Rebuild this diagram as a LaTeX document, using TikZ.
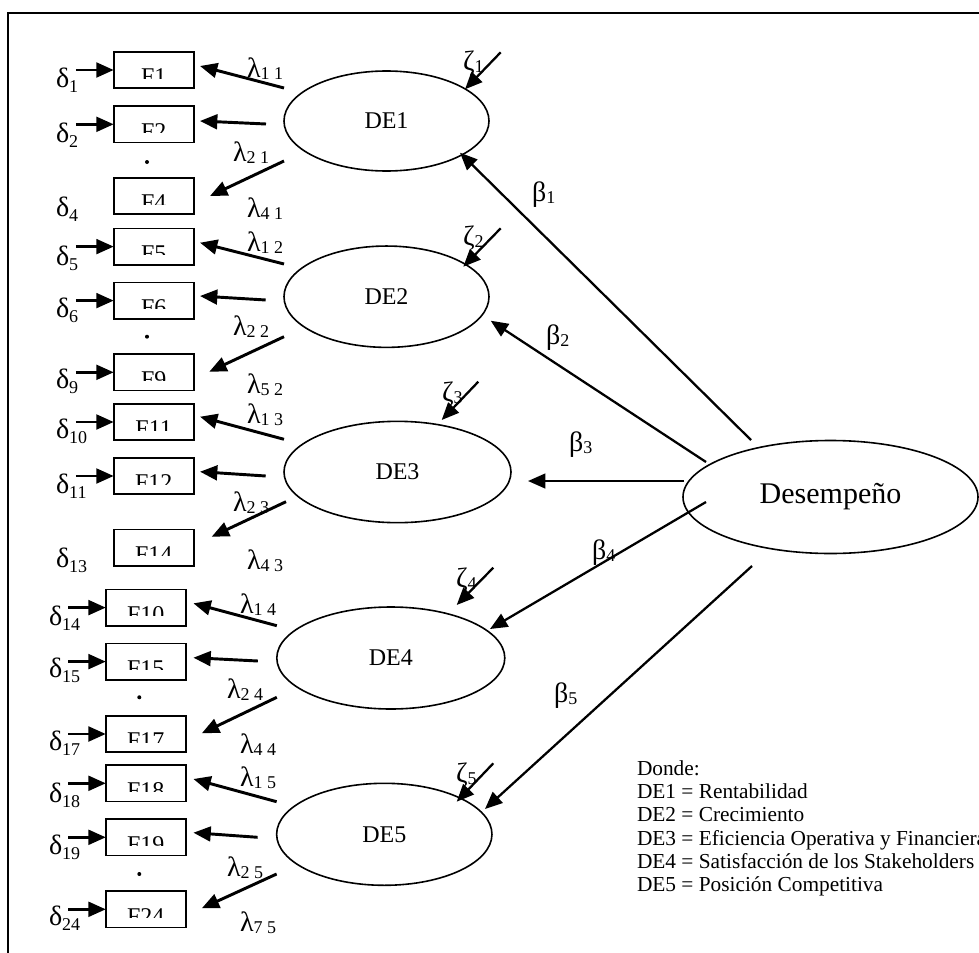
\documentclass[tikz,border=0pt]{standalone}
\usepackage{fontspec}
\setmainfont{Liberation Serif}
\usetikzlibrary{arrows.meta,shapes.geometric}
\tikzset{
 every node/.style={inner sep=0pt, outer sep=0pt},
 fbox/.style={draw, line width=1.2pt, minimum width=60pt, minimum height=27.4pt},
 lat/.style={draw, ellipse, line width=1.2pt, font=\fontsize{18}{18}\selectfont},
 arr/.style={line width=2.2pt, -{Triangle[length=13pt,width=11pt]}},
 barr/.style={line width=1.7pt, -{Triangle[length=13pt,width=11pt]}},
 gk/.style={anchor=base west, font=\fontsize{21}{21}\selectfont},
 legend/.style={anchor=base west, font=\fontsize{16}{16}\selectfont},
 dotnode/.style={circle, fill, minimum size=3pt},
}
\newcommand\gs[3][2pt]{#2\raisebox{-#1}{\fontsize{13.5}{13.5}\selectfont #3}}
\newcommand\fb[4]{%
 \node[fbox] (#1) at (#2,#3+18.3) {};
 \begin{scope}
 \clip (#2-38,#3+2) rectangle (#2+38,#3+26.6);
 \node[anchor=base, font=\fontsize{18}{18}\selectfont] (#1t) at (#2,#3+33) {#4};
 \end{scope}}
\begin{document}
\begin{tikzpicture}[x=0.75pt,y=-0.75pt]
\useasboundingbox (0,0) rectangle (979,953);
\draw[line width=1.5pt] (7.5,953) -- (7.5,12.5) -- (979,12.5);

% latent variables
\node[lat, minimum width=153.75pt, minimum height=75pt] (DE1) at (386.5,121) {DE1};
\node[lat, minimum width=153.75pt, minimum height=76pt] (DE2) at (386.5,296.7) {DE2};
\node[lat, minimum width=170.25pt, minimum height=76pt] (DE3) at (397.5,472) {DE3};
\node[lat, minimum width=171pt, minimum height=76.5pt] (DE4) at (390.8,658) {DE4};
\node[lat, minimum width=161.5pt, minimum height=76.5pt] (DE5) at (384.3,834.3) {DE5};
\node[lat, minimum width=221.25pt, minimum height=84.75pt, font=\fontsize{22.5}{22.5}\selectfont] (DES) at (830.5,497) {Desempeño};

% indicator boxes
\fb{F1}{153.7}{51.7}{F1}
\fb{F2}{153.7}{106}{F2}
\fb{F4}{153.7}{177.7}{F4}
\fb{F5}{153.7}{228.3}{F5}
\fb{F6}{153.7}{282.3}{F6}
\fb{F9}{153.7}{354}{F9}
\fb{F11}{153.7}{403.7}{F11}
\fb{F12}{153.7}{457.7}{F12}
\fb{F14}{153.7}{529.3}{F14}
\fb{F10}{145.8}{589.3}{F10}
\fb{F15}{145.8}{643.3}{F15}
\fb{F17}{145.8}{715.7}{F17}
\fb{F18}{145.8}{765}{F18}
\fb{F19}{145.8}{819}{F19}
\fb{F24}{145.8}{891}{F24}

% dots
\node[dotnode] (p1) at (147,162) {};
\node[dotnode] (p2) at (147,336.7) {};
\node[dotnode] (p4) at (139.3,697.3) {};
\node[dotnode] (p5) at (139.3,874) {};

% delta arrows
\foreach \b in {F1,F2,F5,F6,F9,F11,F12,F10,F15,F17,F18,F19,F24}
  \draw[arr] ([xshift=-28.3pt]\b.west) -- (\b.west);

% delta labels
\node[gk] (d1) at (56,87) {\gs[4pt]{δ}{1}};
\node[gk] (d2) at (56,142) {\gs[4pt]{δ}{2}};
\node[gk] (d4) at (56,216) {\gs[4pt]{δ}{4}};
\node[gk] (d5) at (56,265) {\gs[4pt]{δ}{5}};
\node[gk] (d6) at (56,317) {\gs[4pt]{δ}{6}};
\node[gk] (d9) at (56,388) {\gs[4pt]{δ}{9}};
\node[gk] (d10) at (56,438) {\gs[4pt]{δ}{10}};
\node[gk] (d11) at (56,493) {\gs[4pt]{δ}{11}};
\node[gk] (d13) at (56,567) {\gs[4pt]{δ}{13}};
\node[gk] (d14) at (49,625) {\gs[4pt]{δ}{14}};
\node[gk] (d15) at (49,677) {\gs[4pt]{δ}{15}};
\node[gk] (d17) at (49,750) {\gs[4pt]{δ}{17}};
\node[gk] (d18) at (49,802) {\gs[4pt]{δ}{18}};
\node[gk] (d19) at (49,854) {\gs[4pt]{δ}{19}};
\node[gk] (d24) at (49,925) {\gs[4pt]{δ}{24}};

% lambda arrows
\draw[arr] ([shift={(0,-33)}]DE1.west) -- ([shift={(6.3,-4)}]F1.east);
\draw[arr] ([shift={(-18,3)}]DE1.west) -- ([shift={(6.3,-3.3)}]F2.east);
\draw[arr] ([shift={(0,40)}]DE1.west) -- ([shift={(16.3,0)}]F4.east);
\draw[arr] ([shift={(0,-32.7)}]DE2.west) -- ([shift={(6.3,-3.9)}]F5.east);
\draw[arr] ([shift={(-18.3,3.3)}]DE2.west) -- ([shift={(6.3,-4.6)}]F6.east);
\draw[arr] ([shift={(0,40)}]DE2.west) -- ([shift={(15.6,-0.6)}]F9.east);
\draw[arr] ([shift={(0,-32.7)}]DE3.west) -- ([shift={(6.3,-5.3)}]F11.east);
\draw[arr] ([shift={(-18.3,4)}]DE3.west) -- ([shift={(6.3,-4.3)}]F12.east);
\draw[arr] ([shift={(2,29.7)}]DE3.west) -- ([shift={(18,-10.9)}]F14.east);
\draw[arr] ([shift={(0,-32.3)}]DE4.west) -- ([shift={(7.6,-4.3)}]F10.east);
\draw[arr] ([shift={(-19,3)}]DE4.west) -- ([shift={(7.6,-3.9)}]F15.east);
\draw[arr] ([shift={(0,39.3)}]DE4.west) -- ([shift={(16,-0.7)}]F17.east);
\draw[arr] ([shift={(0,-32.6)}]DE5.west) -- ([shift={(7.6,-4.3)}]F18.east);
\draw[arr] ([shift={(-19,3)}]DE5.west) -- ([shift={(7.6,-4.6)}]F19.east);
\draw[arr] ([shift={(0,39.7)}]DE5.west) -- ([shift={(16,-1)}]F24.east);

% lambda labels
\node[gk] (l11) at (247,77) {\gs{λ}{1 1}};
\node[gk] (l21) at (233,161) {\gs{λ}{2 1}};
\node[gk] (l41) at (247,217) {\gs{λ}{4 1}};
\node[gk] (l12) at (247,251) {\gs{λ}{1 2}};
\node[gk] (l22) at (233,335) {\gs{λ}{2 2}};
\node[gk] (l52) at (247,393) {\gs{λ}{5 2}};
\node[gk] (l13) at (247,423) {\gs{λ}{1 3}};
\node[gk] (l23) at (233,511) {\gs{λ}{2 3}};
\node[gk] (l43) at (247,569) {\gs{λ}{4 3}};
\node[gk] (l14) at (240,613) {\gs{λ}{1 4}};
\node[gk] (l24) at (227,698) {\gs{λ}{2 4}};
\node[gk] (l44) at (240,753) {\gs{λ}{4 4}};
\node[gk] (l15) at (240,786) {\gs{λ}{1 5}};
\node[gk] (l25) at (227,876) {\gs{λ}{2 5}};
\node[gk] (l75) at (240,931) {\gs{λ}{7 5}};

% zeta disturbances
\coordinate (z1s) at (500.7,52.3);
\coordinate (z2s) at (500.7,228.3);
\coordinate (z3s) at (478.3,381.7);
\coordinate (z4s) at (493.3,567.7);
\coordinate (z5s) at (493.3,763.3);
\draw[barr] (z1s) -- (465,89.3) coordinate (z1t);
\draw[barr] (z2s) -- (463.3,266.7) coordinate (z2t);
\draw[barr] (z3s) -- (441.7,420) coordinate (z3t);
\draw[barr] (z4s) -- (456.7,605) coordinate (z4t);
\draw[barr] (z5s) -- (456.7,801.7) coordinate (z5t);
\node[gk] (zl1) at (463,70) {\gs{ζ}{1}};
\node[gk] (zl2) at (463,245) {\gs{ζ}{2}};
\node[gk] (zl3) at (442,401) {\gs{ζ}{3}};
\node[gk] (zl4) at (456,587) {\gs{ζ}{4}};
\node[gk] (zl5) at (456,782) {\gs{ζ}{5}};

% beta paths
\coordinate (b1s) at (751,440);
\coordinate (b2s) at (706,462);
\coordinate (b3s) at (684,481);
\coordinate (b4s) at (706,502);
\coordinate (b5s) at (752,566);
\draw[barr] (b1s) -- (460,152.7) coordinate (b1t);
\draw[barr] (b2s) -- (490.7,320.7) coordinate (b2t);
\draw[barr] (b3s) -- (528,481) coordinate (b3t);
\draw[barr] (b4s) -- (490,629) coordinate (b4t);
\draw[barr] (b5s) -- (485,809) coordinate (b5t);
\node[gk] (bl1) at (532,201) {\gs{β}{1}};
\node[gk] (bl2) at (546,344) {\gs{β}{2}};
\node[gk] (bl3) at (569,451) {\gs{β}{3}};
\node[gk] (bl4) at (592,559) {\gs{β}{4}};
\node[gk] (bl5) at (554,702) {\gs{β}{5}};

% legend
\node[legend] (lg0) at (637,775) {Donde:};
\node[legend] (lg1) at (637,798) {DE1 = Rentabilidad};
\node[legend] (lg2) at (637,821.5) {DE2 = Crecimiento};
\node[legend] (lg3) at (637,845) {DE3 = Eficiencia Operativa y Financiera};
\node[legend] (lg4) at (637,868) {DE4 = Satisfacción de los Stakeholders};
\node[legend] (lg5) at (637,891.5) {DE5 = Posición Competitiva};
\end{tikzpicture}
\end{document}
